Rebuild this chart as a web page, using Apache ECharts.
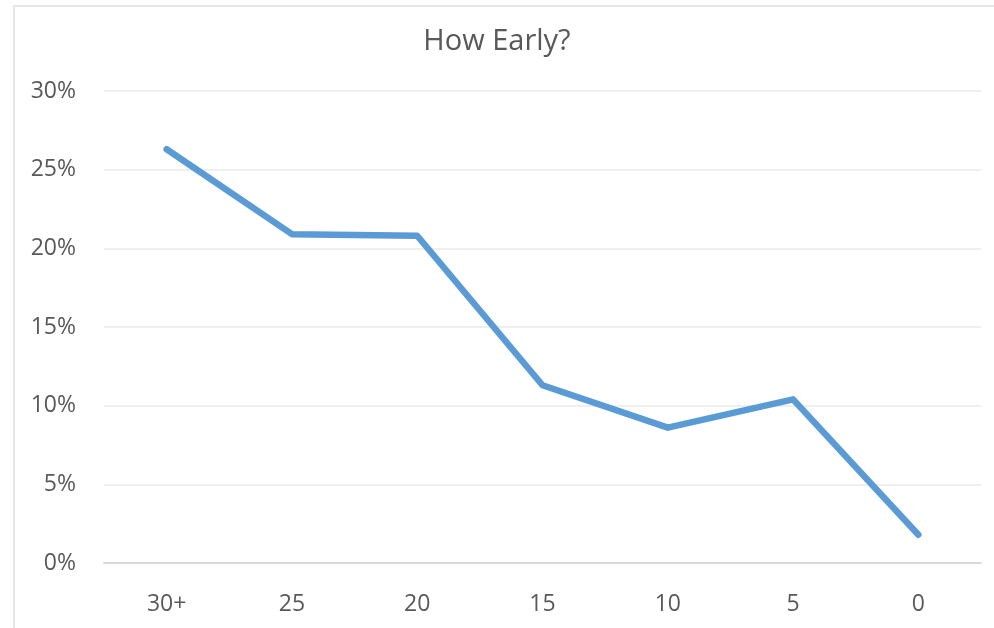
<!DOCTYPE html>
<html lang="en">
<head>
  <meta charset="UTF-8">
  <title>How Early?</title>
  <style>
    html, body {
      margin: 0;
      padding: 0;
      background: #fff;
      overflow: hidden;
    }
    #chart {
      position: absolute;
      left: 0;
      top: 0;
      width: 994px;
      height: 628px;
    }
    .frame {
      position: absolute;
      left: 13px;
      top: 5px;
      width: 1000px;
      height: 700px;
      border: 2px solid #e6e6e6;
      box-sizing: border-box;
      pointer-events: none;
    }
  </style>
</head>
<body>
  <div id="chart"></div>
  <div class="frame"></div>

  <script src="https://cdn.jsdelivr.net/npm/echarts@6/dist/echarts.min.js"></script>
  <script>
    // data (percent)
    const categories = ['30+', '25', '20', '15', '10', '5', '0'];
    const shares = [26.3, 20.9, 20.8, 11.3, 8.6, 10.4, 1.8];

    const chart = echarts.init(document.getElementById('chart'));
    const font = "'Open Sans', 'Liberation Sans', sans-serif";

    chart.setOption({
      animation: false,
      title: {
        text: 'How Early?',
        left: 'center',
        top: 22,
        textStyle: { fontFamily: font, fontSize: 29, fontWeight: 'normal', color: '#595959' }
      },
      grid: { left: 104, right: 13, top: 91, bottom: 65 },
      xAxis: {
        type: 'category',
        data: categories,
        axisLine: { lineStyle: { color: '#d9d9d9', width: 2 } },
        axisTick: { show: false },
        axisLabel: { fontFamily: font, fontSize: 23, color: '#595959', margin: 30 }
      },
      yAxis: {
        type: 'value',
        min: 0,
        max: 30,
        interval: 5,
        axisLine: { show: false },
        axisTick: { show: false },
        splitLine: { lineStyle: { color: '#efefef', width: 2 } },
        axisLabel: {
          fontFamily: font, fontSize: 23, color: '#595959', margin: 28,
          formatter: v => v + '%'
        }
      },
      series: [{
        type: 'line',
        data: shares,
        symbol: 'none',
        lineStyle: { color: '#5b9bd5', width: 6.5, cap: 'round', join: 'round' }
      }]
    });
  </script>
</body>
</html>
